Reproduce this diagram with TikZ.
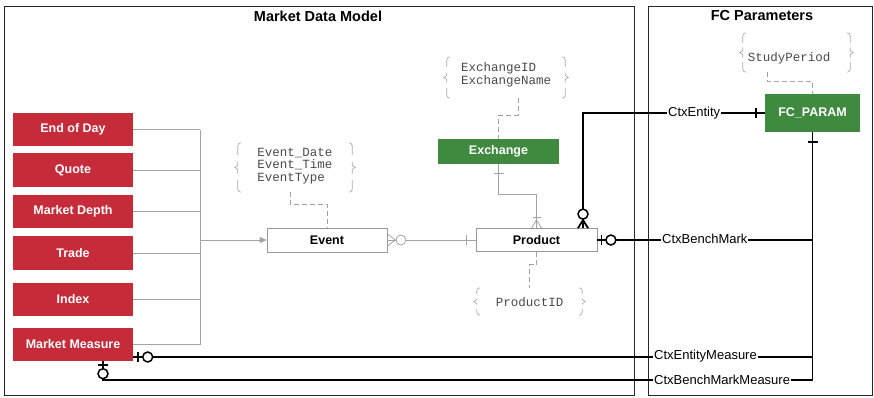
\documentclass[tikz,border=0pt]{standalone}
\usepackage{fontspec}
\setmainfont{Liberation Sans}
\setmonofont{Liberation Mono}
\usetikzlibrary{arrows.meta,calc}

\definecolor{mdred}{HTML}{C62B3A}
\definecolor{mdgreen}{HTML}{3F8A3F}
\definecolor{thingray}{HTML}{A3A3A3}
\definecolor{boxgray}{HTML}{999999}
\definecolor{attrgray}{HTML}{4A4A4A}
\definecolor{bracegray}{HTML}{AAAAAA}

% curly braces on both sides of an attribute frame; #2 = length of the corner pieces
\newcommand\attrbraces[2]{%
  \draw[bracestyle] ([xshift=3]#1.north west) to[out=180,in=90] ([yshift=-3]#1.north west) -- ([yshift=-#2]#1.north west);
  \draw[bracestyle] ([yshift={0.5*#2}]#1.west) -- ([yshift=2]#1.west) -- ([xshift=-3]#1.west) -- ([yshift=-2]#1.west) -- ([yshift={-0.5*#2}]#1.west);
  \draw[bracestyle] ([yshift=#2]#1.south west) -- ([yshift=3]#1.south west) to[out=-90,in=180] ([xshift=3]#1.south west);
  \draw[bracestyle] ([xshift=-3]#1.north east) to[out=0,in=90] ([yshift=-3]#1.north east) -- ([yshift=-#2]#1.north east);
  \draw[bracestyle] ([yshift={0.5*#2}]#1.east) -- ([yshift=2]#1.east) -- ([xshift=3]#1.east) -- ([yshift=-2]#1.east) -- ([yshift={-0.5*#2}]#1.east);
  \draw[bracestyle] ([yshift=#2]#1.south east) -- ([yshift=3]#1.south east) to[out=-90,in=0] ([xshift=-3]#1.south east);
}

\begin{document}
\begin{tikzpicture}[x=1pt,y=-1pt,
  redbox/.style={fill=mdred, text=white, font=\bfseries\fontsize{12.5}{15}\selectfont,
    minimum width=120pt, inner sep=0pt},
  entity/.style={draw=boxgray, line width=0.8pt, fill=white, text=black,
    font=\bfseries\fontsize{12.5}{15}\selectfont, minimum height=24pt, inner sep=0pt},
  greenbox/.style={fill=mdgreen, text=white, font=\bfseries\fontsize{12.5}{15}\selectfont, inner sep=0pt},
  attrframe/.style={inner sep=0pt},
  attrtext/.style={text=attrgray, font=\ttfamily\fontsize{12.5}{12.5}\selectfont, align=left, inner sep=0pt},
  frametitle/.style={font=\bfseries\fontsize{14.5}{17}\selectfont, inner sep=0pt},
  rel/.style={fill=white, inner sep=1pt, font=\fontsize{13}{15}\selectfont, anchor=west},
  thinline/.style={draw=thingray, line width=0.8pt},
  thickline/.style={draw=black, line width=1.8pt},
  attrlink/.style={draw=thingray, line width=0.9pt, dash pattern=on 5pt off 3pt},
  bracestyle/.style={draw=bracegray, line width=0.7pt},
  frame/.style={draw=black!85, line width=0.9pt, inner sep=0pt}
]
\useasboundingbox (0,0) rectangle (874,397);

% frames
\node[frame, anchor=north west, minimum width=630pt, minimum height=389pt] (mdframe) at (4,6) {};
\node[frame, anchor=north west, minimum width=224pt, minimum height=389pt] (fcframe) at (648,6) {};
\node[frametitle] (mdtitle) at (318,16) {Market Data Model};
\node[frametitle] (fctitle) at (762,16) {FC Parameters};

% market data sources
\node[redbox, minimum height=33pt] (eod) at (73,129.5) {End of Day};
\node[redbox, minimum height=34pt] (quote) at (73,170) {Quote};
\node[redbox, minimum height=33pt] (depth) at (73,211.5) {Market Depth};
\node[redbox, minimum height=34pt] (trade) at (73,253) {Trade};
\node[redbox, minimum height=33pt] (index) at (73,299.5) {Index};
\node[redbox, minimum height=33pt] (measure) at (73,344.5) {Market Measure};

% entities
\node[entity, minimum width=120pt] (event) at (327,240) {Event};
\node[entity, minimum width=121pt, minimum height=23pt] (product) at (536.5,240) {Product};
\node[greenbox, minimum width=121pt, minimum height=25pt] (exchange) at (498.5,151.5) {Exchange};
\node[greenbox, minimum width=95pt, minimum height=38pt] (fcparam) at (812.5,113) {FC\_PARAM};

% attribute frames and their texts
\node[attrframe, minimum width=114pt, minimum height=49pt] (evbox) at (295,167.5) {};
\node[attrtext] (evtxt) at (295,166) {Event\_Date\\Event\_Time\\EventType};
\node[attrframe, minimum width=118pt, minimum height=41pt] (exbox) at (506,77.5) {};
\node[attrtext] (extxt) at (506,75) {ExchangeID\\ExchangeName};
\node[attrframe, minimum width=105pt, minimum height=27pt] (pbox) at (529.5,301.5) {};
\node[attrtext] (ptxt) at (529.5,302) {ProductID};
\node[attrframe, minimum width=107pt, minimum height=39pt] (spbox) at (796.5,52.5) {};
\node[attrtext] (sptxt) at (789,58) {StudyPeriod};

\attrbraces{evbox}{12}
\attrbraces{exbox}{10}
\attrbraces{pbox}{6}
\attrbraces{spbox}{10}

% attribute links
\draw[attrlink] ([xshift=-5]evbox.south) -- ++(0,12) -| (event.north);
\draw[attrlink] ([xshift=12]exbox.south) -- ++(0,17) -| (exchange.north);
\draw[attrlink] (product.south) -- ++(0,13) -| (pbox.north);
\draw[attrlink] ([xshift=-29.5]spbox.south) -- ++(0,9) -| (fcparam.north);

% sources feeding the event
\coordinate (bus) at (200,0);
\foreach \src in {eod,quote,depth,trade,index,measure}
  \draw[thinline] (\src.east) -- (\src.east -| bus);
\draw[thinline] (eod.east -| bus) -- (measure.east -| bus);
\draw[thinline, -{Triangle[length=7pt,width=6pt]}] (event.west -| bus) -- (event.west);

% event -- product
\draw[thinline] (event.east) -- (product.west);
\draw[thinline] ([yshift=6]event.east) -- ([xshift=8]event.east) -- ([yshift=-6]event.east);
\draw[thinline, fill=white] ([xshift=13.5]event.east) circle (5pt);
\draw[thinline] ([xshift=-9,yshift=5]product.west) -- ([xshift=-9,yshift=-5]product.west);

% exchange -- product
\draw[thinline] (exchange.south) -- ++(0,30) -| (product.north);
\draw[thinline] ([xshift=-5,yshift=-9]exchange.south) -- ([xshift=5,yshift=-9]exchange.south);
\draw[thinline] ([xshift=-5]product.north) -- ([yshift=8]product.north) -- ([xshift=5]product.north);
\draw[thinline] ([xshift=-4,yshift=11]product.north) -- ([xshift=4,yshift=11]product.north);

% relations to FC_PARAM
\coordinate (ceb) at ([xshift=46.5]product.north);
\coordinate (mme) at ([yshift=-12.5]measure.east);
\coordinate (mmb) at ([xshift=30]measure.south);
\coordinate (lowy) at (0,380);

\draw[thickline] (ceb) |- (fcparam.west);
\draw[thickline] (product.east) -- (product.east -| fcparam.south);
\draw[thickline] (mme) -- (mme -| fcparam.south);
\draw[thickline] (mmb) |- (fcparam.south |- lowy);
\draw[thickline] (fcparam.south) -- (fcparam.south |- lowy);

\node[rel] (lblentity) at (667,113) {CtxEntity};
\node[rel] (lblbench) at (661,238.5) {CtxBenchMark};
\node[rel] (lblem) at (653,356.5) {CtxEntityMeasure};
\node[rel] (lblbm) at (653,379.5) {CtxBenchMarkMeasure};

% relation end marks
\draw[thickline] ([xshift=-5]ceb) -- ([yshift=8]ceb) -- ([xshift=5]ceb);
\draw[thickline, line width=1.5pt, fill=white] ([yshift=14]ceb) circle (5pt);
\draw[thickline] ([xshift=-9,yshift=5]fcparam.west) -- ([xshift=-9,yshift=-5]fcparam.west);
\draw[thickline] ([xshift=-5,yshift=-10]fcparam.south) -- ([xshift=5,yshift=-10]fcparam.south);
\draw[thickline] ([xshift=4,yshift=5]product.east) -- ([xshift=4,yshift=-5]product.east);
\draw[thickline, line width=1.5pt, fill=white] ([xshift=13.5]product.east) circle (5pt);
\draw[thickline] ([xshift=5,yshift=5]mme) -- ([xshift=5,yshift=-5]mme);
\draw[thickline, line width=1.5pt, fill=white] ([xshift=14.5]mme) circle (5pt);
\draw[thickline] ([xshift=-5,yshift=-4]mmb) -- ([xshift=5,yshift=-4]mmb);
\draw[thickline, line width=1.5pt, fill=white] ([yshift=-12.5]mmb) circle (5pt);
\end{tikzpicture}
\end{document}
